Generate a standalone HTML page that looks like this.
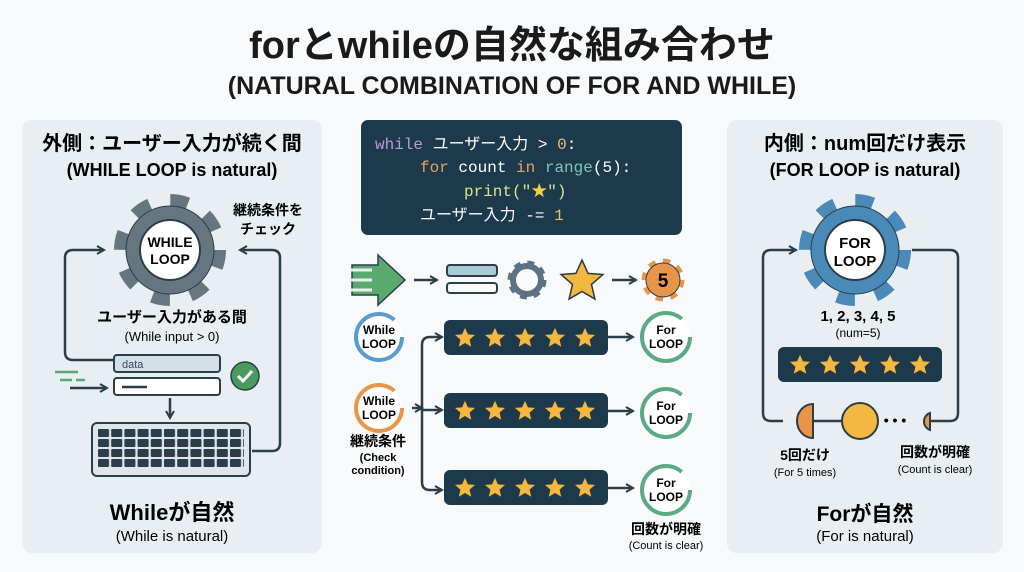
<!DOCTYPE html>
<html><head><meta charset="utf-8">
<style>
body{margin:0;width:1024px;height:572px;background:#f7f9fa;overflow:hidden;font-family:"Liberation Sans","Noto Sans CJK JP",sans-serif;color:#1e2a33}
svg{position:absolute;left:0;top:0}
</style></head><body>
<svg width="1024" height="572" viewBox="0 0 1024 572" font-family="Liberation Sans, Noto Sans CJK JP, sans-serif" font-weight="bold">
<defs>
<polygon id="st" points="0,-11 3.2,-4 11,-3.4 5,1.8 6.8,9.5 0,5.5 -6.8,9.5 -5,1.8 -11,-3.4 -3.2,-4" fill="#f4b840" stroke="#2b3a44" stroke-width="0.8"/>
<marker id="ah" viewBox="0 0 10 10" refX="8" refY="5" markerWidth="4" markerHeight="4" orient="auto"><path d="M1,1 L8,5 L1,9" fill="none" stroke="#2b3e4a" stroke-width="2"/></marker>
<pattern id="keys" x="98" y="429" width="13.2" height="10" patternUnits="userSpaceOnUse"><rect x="0" y="0" width="11" height="8" rx="1" fill="#2b3e4a"/></pattern>
</defs>
<rect width="1024" height="572" fill="#f7f9fa"/>
<text x="512" y="58" font-size="38" text-anchor="middle" fill="#1a1a1a">forとwhileの自然な組み合わせ</text>
<text x="512" y="94" font-size="25" text-anchor="middle" fill="#1a1a1a">(NATURAL COMBINATION OF FOR AND WHILE)</text>

<!-- left panel -->
<rect x="22" y="120" width="300" height="433" rx="10" fill="#e8eef1"/>
<text x="172" y="150" font-size="20" text-anchor="middle">外側：ユーザー入力が続く間</text>
<text x="172" y="176" font-size="18" text-anchor="middle">(WHILE LOOP is natural)</text>
<text x="268" y="215" font-size="14" text-anchor="middle">継続条件を</text>
<text x="268" y="234" font-size="14" text-anchor="middle">チェック</text>
<g stroke="#2b3e4a" stroke-width="2.5" fill="none" marker-end="url(#ah)">
<path d="M118,360 L73,360 Q65,360 65,352 L65,258 Q65,250 73,250 L104,250"/>
<path d="M252,451 L272,451 Q280,451 280,443 L280,258 Q280,250 272,250 L240,250"/>
<path d="M70,388 L107,388"/>
<path d="M170,398 L170,418"/>
</g>
<circle cx="170" cy="250" r="47" fill="none" stroke="#66767f" stroke-width="18" stroke-dasharray="17 19.9"/>
<circle cx="170" cy="250" r="44" fill="#66767f" stroke="#2b3e4a" stroke-width="1"/>
<circle cx="170" cy="250" r="30" fill="#fff" stroke="#2b3e4a" stroke-width="2"/>
<text x="170" y="247" font-size="14" text-anchor="middle">WHILE</text>
<text x="170" y="264" font-size="14" text-anchor="middle">LOOP</text>
<text x="172" y="322" font-size="15" text-anchor="middle">ユーザー入力がある間</text>
<text x="172" y="341" font-size="13" text-anchor="middle" font-weight="normal">(While input &gt; 0)</text>
<path d="M55,372 H78 M60,380 H72 M76,380 H85" stroke="#5aa777" stroke-width="2.5"/>
<rect x="114" y="355" width="106" height="17" rx="3" fill="#d4e0e8" stroke="#2b3e4a" stroke-width="2"/>
<text x="122" y="368" font-size="11" fill="#3a4a55" font-weight="normal">data</text>
<rect x="114" y="378" width="106" height="17" rx="3" fill="#fff" stroke="#2b3e4a" stroke-width="2"/>
<path d="M122,387 H147" stroke="#2b3e4a" stroke-width="2.5"/>
<circle cx="245" cy="376" r="14" fill="#4a9a60" stroke="#2b3e4a" stroke-width="1.5"/>
<path d="M238,376 L243,381 L252,371" stroke="#fff" stroke-width="3" fill="none"/>
<rect x="92" y="423" width="158" height="53" rx="5" fill="#dfe6ea" stroke="#2b3e4a" stroke-width="2"/>
<rect x="98" y="429" width="146" height="40" fill="url(#keys)"/>
<text x="172" y="520" font-size="22" text-anchor="middle">Whileが自然</text>
<text x="172" y="541" font-size="15" text-anchor="middle" font-weight="normal">(While is natural)</text>

<!-- code box -->
<rect x="361" y="120" width="321" height="115" rx="7" fill="#1d3a4d"/>
<g font-family="Liberation Mono, Noto Sans CJK JP, monospace" font-size="16" font-weight="normal">
<text x="375" y="149"><tspan fill="#b79ad6">while</tspan><tspan fill="#fff"> ユーザー入力 &gt; </tspan><tspan fill="#e8c070">0</tspan><tspan fill="#fff">:</tspan></text>
<text x="420" y="172"><tspan fill="#e8a060">for</tspan><tspan fill="#fff"> count </tspan><tspan fill="#e8a060">in</tspan><tspan fill="#fff"> </tspan><tspan fill="#7cc8b0">range</tspan><tspan fill="#fff">(5):</tspan></text>
<text x="464" y="196" fill="#d8e48a">print("<tspan fill="#f4d040">★</tspan>")</text>
<text x="420" y="220" fill="#fff">ユーザー入力 -= <tspan fill="#e8c070">1</tspan></text>
</g>

<!-- icon row -->
<path d="M352,265 H378 V255 L405,280 L378,305 V295 H352 Z" fill="#5aaa70" stroke="#2b3e4a" stroke-width="1.5"/>
<path d="M350,270 H372 M350,280 H372 M350,290 H372" stroke="#e8eef1" stroke-width="3"/>
<g stroke="#2b3e4a" stroke-width="2.5" fill="none" marker-end="url(#ah)">
<path d="M414,280 H437"/><path d="M612,280 H636"/>
<path d="M412,408 L422,408"/>
<path d="M422,408 V345 Q422,337 430,337 H442"/>
<path d="M422,410 H442"/>
<path d="M422,408 V482 Q422,490 430,490 H442"/>
<path d="M608,337 H633"/><path d="M608,411 H633"/><path d="M608,488 H633"/>
</g>
<rect x="447" y="265" width="50" height="11" rx="3" fill="#a9cbd8" stroke="#2b3e4a" stroke-width="2"/>
<rect x="447" y="283" width="50" height="10" rx="3" fill="#fff" stroke="#2b3e4a" stroke-width="2"/>
<circle cx="527" cy="280" r="16" fill="none" stroke="#5d7282" stroke-width="7" stroke-dasharray="6.3 6.3"/>
<circle cx="527" cy="280" r="14" fill="none" stroke="#5d7282" stroke-width="6"/>
<use href="#st" transform="translate(582,281) scale(1.9)"/>
<circle cx="663" cy="280" r="18" fill="none" stroke="#e8954a" stroke-width="7" stroke-dasharray="7 7.1"/>
<circle cx="663" cy="280" r="17" fill="#e8954a" stroke="#2b3e4a" stroke-width="1"/>
<text x="663" y="287" font-size="19" text-anchor="middle">5</text>

<!-- while circles -->
<g font-size="12" text-anchor="middle">
<circle cx="379" cy="337" r="23" fill="#fff" stroke="#5a9ccc" stroke-width="4" stroke-dasharray="125 20"/>
<text x="379" y="334">While</text><text x="379" y="348">LOOP</text>
<circle cx="379" cy="408" r="23" fill="#fff" stroke="#e8954a" stroke-width="4" stroke-dasharray="125 20"/>
<text x="379" y="405">While</text><text x="379" y="419">LOOP</text>
<text x="378" y="446" font-size="14">継続条件</text>
<text x="378" y="461" font-size="11">(Check</text><text x="378" y="474" font-size="11">condition)</text>
</g>
<!-- star bars -->
<g>
<rect x="444" y="320" width="164" height="35" rx="6" fill="#1d3a4d"/>
<rect x="444" y="393" width="164" height="35" rx="6" fill="#1d3a4d"/>
<rect x="444" y="470" width="164" height="35" rx="6" fill="#1d3a4d"/>
<g id="row"><use href="#st" x="465" y="338"/><use href="#st" x="495" y="338"/><use href="#st" x="525" y="338"/><use href="#st" x="555" y="338"/><use href="#st" x="585" y="338"/></g>
<use href="#row" y="73"/><use href="#row" y="150"/>
</g>
<g font-size="12" text-anchor="middle">
<circle cx="666" cy="337" r="24" fill="#fff" stroke="#5aaa82" stroke-width="4" stroke-dasharray="130 21"/>
<text x="666" y="334">For</text><text x="666" y="348">LOOP</text>
<circle cx="666" cy="413" r="24" fill="#fff" stroke="#5aaa82" stroke-width="4" stroke-dasharray="130 21"/>
<text x="666" y="410">For</text><text x="666" y="424">LOOP</text>
<circle cx="666" cy="490" r="24" fill="#fff" stroke="#5aaa82" stroke-width="4" stroke-dasharray="130 21"/>
<text x="666" y="487">For</text><text x="666" y="501">LOOP</text>
<text x="666" y="534" font-size="14">回数が明確</text>
<text x="666" y="549" font-size="11" font-weight="normal">(Count is clear)</text>
</g>

<!-- right panel -->
<rect x="727" y="120" width="276" height="433" rx="10" fill="#e8eef1"/>
<text x="865" y="150" font-size="20" text-anchor="middle">内側：num回だけ表示</text>
<text x="865" y="176" font-size="18" text-anchor="middle">(FOR LOOP is natural)</text>
<g stroke="#2b3e4a" stroke-width="2.5" fill="none">
<path d="M783,421 L771,421 Q763,421 763,413 L763,258 Q763,250 771,250 L796,250" marker-end="url(#ah)"/>
<path d="M912,250 L950,250 Q958,250 958,258 L958,413 Q958,421 950,421 L930,421"/>
<path d="M805,421 H842"/>
</g>
<circle cx="855" cy="250" r="47" fill="none" stroke="#4a8ab8" stroke-width="18" stroke-dasharray="17 19.9"/>
<circle cx="855" cy="250" r="44" fill="#4a8ab8" stroke="#2b3e4a" stroke-width="1"/>
<circle cx="855" cy="250" r="30" fill="#fff" stroke="#2b3e4a" stroke-width="2"/>
<text x="855" y="248" font-size="15" text-anchor="middle">FOR</text>
<text x="855" y="266" font-size="15" text-anchor="middle">LOOP</text>
<text x="858" y="321" font-size="15" text-anchor="middle">1, 2, 3, 4, 5</text>
<text x="858" y="337" font-size="12" text-anchor="middle" font-weight="normal">(num=5)</text>
<rect x="778" y="347" width="164" height="35" rx="6" fill="#1d3a4d"/>
<use href="#row" x="335" y="27"/>
<path d="M813,404 A16,17 0 0 0 813,438 Z" fill="#e8954a" stroke="#2b3e4a" stroke-width="2"/>
<circle cx="860" cy="421" r="18" fill="#f4b840" stroke="#2b3e4a" stroke-width="2"/>
<text x="895" y="425" font-size="14" text-anchor="middle">• • •</text>
<path d="M930,413 A9,9 0 0 0 930,430 Z" fill="#e8954a" stroke="#2b3e4a" stroke-width="2"/>
<text x="805" y="460" font-size="14" text-anchor="middle">5回だけ</text>
<text x="805" y="476" font-size="11" text-anchor="middle" font-weight="normal">(For 5 times)</text>
<text x="935" y="457" font-size="14" text-anchor="middle">回数が明確</text>
<text x="935" y="473" font-size="11" text-anchor="middle" font-weight="normal">(Count is clear)</text>
<text x="865" y="521" font-size="21" text-anchor="middle">Forが自然</text>
<text x="865" y="541" font-size="15" text-anchor="middle" font-weight="normal">(For is natural)</text>
</svg>
</body></html>
